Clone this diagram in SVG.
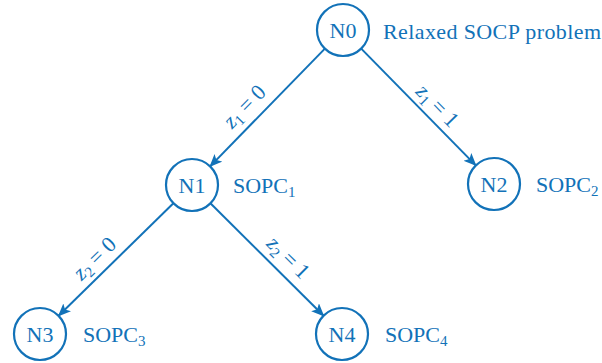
<svg xmlns="http://www.w3.org/2000/svg" width="602" height="363" viewBox="0 0 602 363">
<style>
.n{fill:#fff;stroke:#1272b8;stroke-width:2.2}
.t{font-family:"Liberation Serif","DejaVu Serif",serif;font-size:22px;fill:#1272b8}
.c{text-anchor:middle}
.e{stroke:#1272b8;stroke-width:2;fill:none;marker-end:url(#ah)}
.s{font-size:15px}
</style>
<defs>
<marker id="ah" markerUnits="userSpaceOnUse" markerWidth="16" markerHeight="12" refX="12" refY="5.5" orient="auto">
<path d="M0,0 L13,5.5 L0,11 L3,5.5 z" fill="#1272b8"/>
</marker>
</defs>
<g id="edges">
<line class="e" x1="324.9" y1="48.6" x2="210.1" y2="166.4"/>
<line class="e" x1="361.2" y1="48.6" x2="475.8" y2="165.4"/>
<line class="e" x1="173.4" y1="203.2" x2="58.6" y2="315.8"/>
<line class="e" x1="210.4" y1="203.3" x2="323.6" y2="315.7"/>
<text class="t c" transform="translate(246,108) rotate(-45.7)" y="5"><tspan font-style="italic">z</tspan><tspan class="s" dy="4">1</tspan><tspan dy="-4"> = 0</tspan></text>
<text class="t c" transform="translate(436,107) rotate(45.6)" y="5"><tspan font-style="italic">z</tspan><tspan class="s" dy="4">1</tspan><tspan dy="-4"> = 1</tspan></text>
<text class="t c" transform="translate(96,260) rotate(-44.4)" y="5"><tspan font-style="italic">z</tspan><tspan class="s" dy="4">2</tspan><tspan dy="-4"> = 0</tspan></text>
<text class="t c" transform="translate(287,259) rotate(44.8)" y="5"><tspan font-style="italic">z</tspan><tspan class="s" dy="4">2</tspan><tspan dy="-4"> = 1</tspan></text>
</g>
<g id="N0">
<circle class="n" cx="343" cy="30" r="26"/>
<text class="t c" x="343" y="37.5">N0</text>
<text class="t" x="383" y="38.5" textLength="218">Relaxed SOCP problem</text>
</g>
<g id="N1">
<circle class="n" cx="192" cy="185" r="26"/>
<text class="t c" x="192" y="192.5">N1</text>
<text class="t" x="233" y="192.5">SOPC<tspan class="s" dy="4">1</tspan></text>
</g>
<g id="N2">
<circle class="n" cx="494" cy="184" r="26"/>
<text class="t c" x="494" y="191.5">N2</text>
<text class="t" x="536" y="191.5">SOPC<tspan class="s" dy="4">2</tspan></text>
</g>
<g id="N3">
<circle class="n" cx="40" cy="334" r="26"/>
<text class="t c" x="40" y="341.5">N3</text>
<text class="t" x="83" y="341.5">SOPC<tspan class="s" dy="4">3</tspan></text>
</g>
<g id="N4">
<circle class="n" cx="342" cy="334" r="26"/>
<text class="t c" x="342" y="341.5">N4</text>
<text class="t" x="385" y="341.5">SOPC<tspan class="s" dy="4">4</tspan></text>
</g>
</svg>
